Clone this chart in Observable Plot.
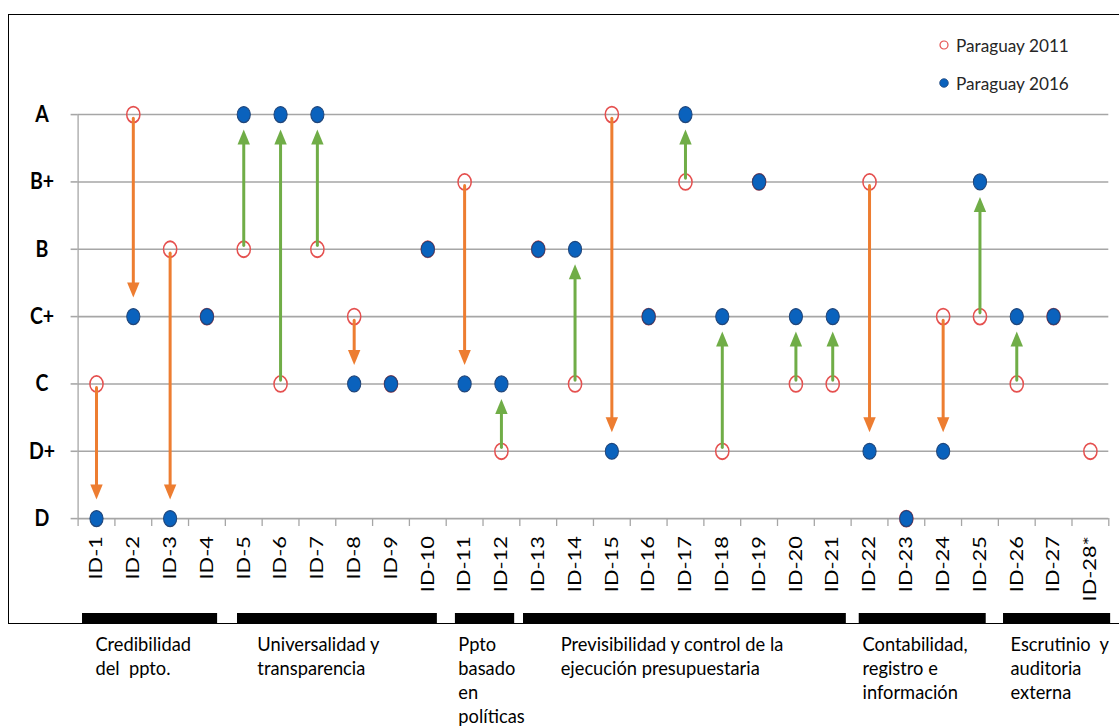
<!DOCTYPE html>
<html>
<head>
<meta charset="utf-8">
<script src="https://cdn.jsdelivr.net/npm/d3@7"></script>
<script src="https://cdn.jsdelivr.net/npm/@observablehq/plot@0.6"></script>
<style>
  html, body { margin: 0; padding: 0; background: #fff; }
  #root { position: relative; width: 1119px; height: 726px; overflow: hidden; background: #fff; font-family: Lato, "Open Sans", sans-serif; }
  #frame { position: absolute; left: 8px; top: 14px; width: 1120px; height: 610px; box-sizing: border-box;
           border-top: 1.3px solid #000; border-left: 1.3px solid #000; border-bottom: 1.3px solid #000; }
  #main { position: absolute; left: 0; top: 0; width: 1119px; height: 600px; transform: scale(1, 1.21); transform-origin: 0 0; }
  #groups { position: absolute; left: 0; top: 613px; width: 1119px; height: 113px; }
  .leg { position: absolute; left: 938px; font-size: 17.2px; color: #262626; display: flex; align-items: center; height: 20px; }
  .leg svg { margin-right: 6px; }
</style>
</head>
<body>
<div id="root">
  <div id="frame"></div>
  <div id="main"></div>
  <div id="groups"></div>
  <div class="leg" style="top:35px"><svg width="12" height="12"><circle cx="6" cy="6" r="4" fill="none" stroke="#e5504f" stroke-width="1.2"/></svg>Paraguay 2011</div>
  <div class="leg" style="top:73px"><svg width="12" height="12"><circle cx="6" cy="6" r="4.3" fill="#0a62bd" stroke="#21467a" stroke-width="0.8"/></svg>Paraguay 2016</div>
</div>
<script>
// ---- data ----
const ids = ["ID-1","ID-2","ID-3","ID-4","ID-5","ID-6","ID-7","ID-8","ID-9","ID-10",
             "ID-11","ID-12","ID-13","ID-14","ID-15","ID-16","ID-17","ID-18","ID-19","ID-20",
             "ID-21","ID-22","ID-23","ID-24","ID-25","ID-26","ID-27","ID-28*"];
const levels = ["D","D+","C","C+","B","B+","A"];
const score2011 = ["C","A","B","C+","B","C","B","C+","C","B",
                   "B+","D+","B","C","A","C+","B+","D+","B+","C",
                   "C","B+","D","C+","C+","C","C+","D+"];
const score2016 = ["D","C+","D","C+","A","A","A","C","C","B",
                   "C","C","B","B","D+","C+","A","C+","B+","C+",
                   "C+","D+","D","D+","B+","C+","C+",null];
const groupNames = ["Credibilidad\ndel  ppto.","Universalidad y\ntransparencia","Ppto\nbasado\nen\npolíticas",
                    "Previsibilidad y control de la\nejecución presupuestaria","Contabilidad,\nregistro e\ninformación",
                    "Escrutinio  y\nauditoria\nexterna"];
const groupFrom = [0.62, 4.83, 10.75, 12.60, 21.72, 25.64];
const groupTo = [4.29, 10.26, 12.36, 21.37, 25.17, 28.55];
const groupLabelAt = [0.97, 5.37, 10.83, 13.61, 21.81, 25.83];

// ---- derived tables ----
const rows = ids.map((id, i) => ({
  x: i + 1,
  y11: score2011[i] == null ? null : levels.indexOf(score2011[i]),
  y16: score2016[i] == null ? null : levels.indexOf(score2016[i])
}));
const both = rows.filter(d => d.y11 != null && d.y16 != null && d.y11 !== d.y16);
const ups = both.filter(d => d.y16 > d.y11);
const downs = both.filter(d => d.y16 < d.y11);
const groups = groupNames.map((label, i) => ({label, from: groupFrom[i], to: groupTo[i], at: groupLabelAt[i]}));

const ORANGE = "#ed7d31", GREEN = "#70ad47", GRID = "#a6a6a6";
const HW = 6.2, HH = 12.4;
const headUp = {draw(ctx) { const g = 12.4; ctx.moveTo(0, g); ctx.lineTo(HW, g + HH); ctx.lineTo(-HW, g + HH); ctx.closePath(); }};
const headDown = {draw(ctx) { const g = 15.7; ctx.moveTo(0, -g); ctx.lineTo(HW, -g - HH); ctx.lineTo(-HW, -g - HH); ctx.closePath(); }};

const xDomain = [0.5, 28.5];
const mL = 77.6, mR = 10.7;

const main = Plot.plot({
  width: 1119, height: 600,
  marginTop: 94.2, marginBottom: 171.9, marginLeft: mL, marginRight: mR,
  x: {type: "linear", domain: xDomain},
  y: {type: "linear", domain: [0, 6]},
  style: {background: "transparent", overflow: "visible", fontFamily: "Lato, 'Open Sans', sans-serif", color: "#000"},
  marks: [
    Plot.gridY({ticks: d3.range(7), stroke: GRID, strokeOpacity: 1, strokeWidth: 1.3}),
    Plot.ruleX([0.5], {y1: 0, y2: 6, stroke: GRID, strokeWidth: 1.3}),
    Plot.axisY({ticks: d3.range(7), tickFormat: d => levels[d], tickSize: 7, tickPadding: 29.1,
                textAnchor: "middle", stroke: GRID, strokeWidth: 1.3, fill: "#000",
                fontSize: 19.5, fontWeight: "bold", label: null}),
    Plot.axisX({ticks: d3.range(0.5, 29, 1), tickSize: 6.6, tickFormat: () => "", stroke: GRID, strokeWidth: 1.3, label: null}),
    Plot.axisX({ticks: d3.range(1, 29), tickSize: 0, tickPadding: 14.5, tickRotate: -90,
                tickFormat: d => ids[d - 1], fontSize: 18, fill: "#000", label: null}),
    Plot.dot(rows.filter(d => d.y11 != null), {x: "x", y: "y11", r: 6.6, fill: "none", stroke: "#e5504f", strokeWidth: 1.5}),
    Plot.arrow(ups, {x1: "x", x2: "x", y1: "y11", y2: "y16", stroke: GREEN, strokeWidth: 3, headLength: 0, insetStart: 3.3, insetEnd: 24}),
    Plot.arrow(downs, {x1: "x", x2: "x", y1: "y11", y2: "y16", stroke: ORANGE, strokeWidth: 3, headLength: 0, insetStart: 3.3, insetEnd: 27}),
    Plot.dot(ups, {x: "x", y: "y16", symbol: headUp, fill: GREEN, stroke: "none"}),
    Plot.dot(downs, {x: "x", y: "y16", symbol: headDown, fill: ORANGE, stroke: "none"}),
    Plot.dot(rows.filter(d => d.y16 != null), {x: "x", y: "y16", r: 6.6, fill: "#0a62bd", stroke: "#21467a", strokeWidth: 1})
  ]
});
document.getElementById("main").appendChild(main);

const grp = Plot.plot({
  width: 1119, height: 113,
  marginTop: 0, marginBottom: 103, marginLeft: mL, marginRight: mR,
  x: {type: "linear", domain: xDomain, axis: null},
  style: {background: "transparent", overflow: "visible", whiteSpace: "pre", fontFamily: "Lato, 'Open Sans', sans-serif"},
  marks: [
    Plot.rect(groups, {x1: "from", x2: "to", fill: "#000"}),
    Plot.text(groups, {x: "at", text: "label", frameAnchor: "bottom", lineAnchor: "top", textAnchor: "start",
                       dy: 11, lineHeight: 1.3, fontSize: 18.3, fill: "#000"})
  ]
});
document.getElementById("groups").appendChild(grp);
</script>
</body>
</html>
